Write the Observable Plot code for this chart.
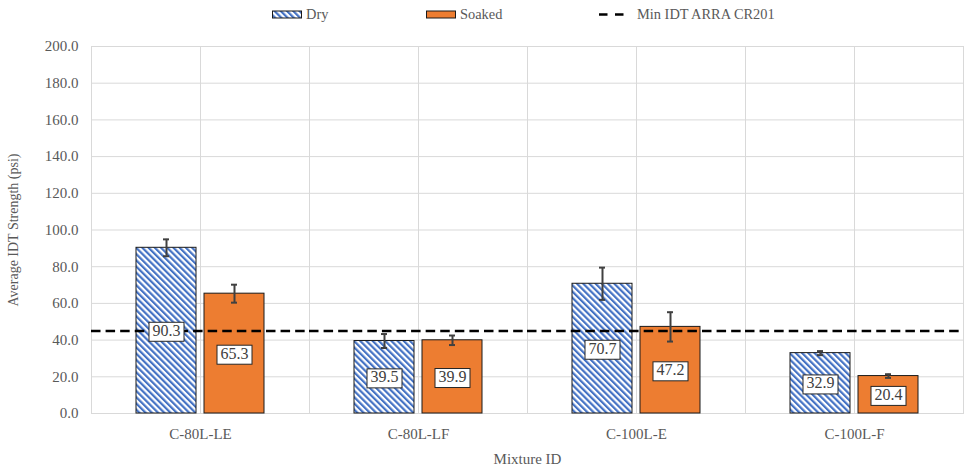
<!DOCTYPE html>
<html>
<head>
<meta charset="utf-8">
<script src="https://cdn.jsdelivr.net/npm/d3@7"></script>
<script src="https://cdn.jsdelivr.net/npm/@observablehq/plot@0.6"></script>
<style>
  body { margin: 0; background: #fff; font-family: "Times New Roman", "Liberation Serif", "DejaVu Serif", serif; }
  #chart { position: relative; width: 972px; height: 475px; overflow: hidden; }
  #legend { position: relative; height: 28px; font-size: 14.4px; color: #595959; font-family: "Times New Roman", "Liberation Serif", "DejaVu Serif", serif; }
  #legend .item { position: absolute; top: 5px; height: 18px; display: flex; align-items: center; white-space: nowrap; }
  #legend .item svg { margin-right: 4px; }
</style>
</head>
<body>
<svg width="0" height="0" style="position:absolute">
  <defs>
    <pattern id="dryHatch" patternUnits="userSpaceOnUse" width="4.4" height="4.4" patternTransform="rotate(-45)">
      <rect width="4.4" height="4.4" fill="#ffffff"></rect>
      <rect width="2.2" height="4.4" fill="#4472C4"></rect>
    </pattern>
  </defs>
</svg>
<div id="chart">
  <div id="legend">
    <div class="item" style="left:272px">
      <svg width="30" height="9"><rect x="0.5" y="1" width="29" height="7" fill="url(#dryHatch)" stroke="#1a1a1a" stroke-width="1"></rect></svg>Dry
    </div>
    <div class="item" style="left:426px">
      <svg width="30" height="9"><rect x="0.5" y="1" width="29" height="7" fill="#ED7D31" stroke="#1a1a1a" stroke-width="1"></rect></svg>Soaked
    </div>
    <div class="item" style="left:599px">
      <svg width="34" height="9"><line x1="0" x2="27" y1="4.5" y2="4.5" stroke="#000" stroke-width="2.6" stroke-dasharray="8.5,7.5"></line></svg>Min IDT ARRA CR201
    </div>
  </div>
</div>
<script>
// Average indirect tensile (IDT) strength per mixture, dry vs. soaked
const mixtures = ["C-80L-LE", "C-80L-LF", "C-100L-E", "C-100L-F"];
const conditions = ["Dry", "Soaked"];
const dryMeans = [90.3, 39.5, 70.7, 32.9];
const soakedMeans = [65.3, 39.9, 47.2, 20.4];
const dryErr = [4.6, 3.8, 8.8, 1.1];
const soakedErr = [4.9, 2.6, 8.0, 1.0];
const minIDT = 45; // Min IDT, ARRA CR201
const yTicks = [0, 20, 40, 60, 80, 100, 120, 140, 160, 180, 200];

const rows = mixtures.flatMap((m, i) => [
  {mixture: m, condition: "Dry", mean: dryMeans[i], err: dryErr[i]},
  {mixture: m, condition: "Soaked", mean: soakedMeans[i], err: soakedErr[i]}
]);

const grid = "#d9d9d9";
const ink = "#404040";
const serif = '"Times New Roman", "Liberation Serif", "DejaVu Serif", serif';

const plot = Plot.plot({
  width: 972,
  height: 447,
  marginTop: 18,
  marginBottom: 62,
  marginLeft: 89,
  marginRight: 8,
  style: {fontFamily: serif, fontSize: "15px", color: "#595959", background: "white", overflow: "visible"},
  fx: {domain: mixtures, padding: 0},
  x: {domain: conditions, paddingInner: 0.116, paddingOuter: 0.645, axis: null},
  y: {domain: [0, 200]},
  color: {domain: conditions, range: ["url(#dryHatch)", "#ED7D31"]},
  marks: [
    Plot.gridY(yTicks, {stroke: grid, strokeOpacity: 1, strokeWidth: 1}),
    Plot.frame({anchor: "left", stroke: grid, strokeOpacity: 1}),
    Plot.frame({anchor: "right", stroke: grid, strokeOpacity: 1}),
    Plot.gridFx({stroke: grid, strokeOpacity: 1}),
    Plot.axisY(yTicks, {
      tickSize: 0, tickPadding: 13, tickFormat: d3.format(".1f"), fill: "#595959", fontFamily: serif, fontSize: 15,
      label: null
    }),
    // axis title alone, in a slightly smaller size
    Plot.axisY([], {
      tickSize: 0, fill: "#595959", fontFamily: serif, fontSize: 14,
      label: "Average IDT Strength (psi)", labelAnchor: "center", labelArrow: "none", labelOffset: 83
    }),
    Plot.axisFx({
      anchor: "bottom", tickSize: 0, tickPadding: 15, fill: "#595959", fontFamily: serif, fontSize: 15,
      label: "Mixture ID", labelAnchor: "center", labelArrow: "none", labelOffset: 50
    }),
    Plot.barY(rows, {fx: "mixture", x: "condition", y: "mean", fill: "condition", stroke: "#1a1a1a", strokeWidth: 1}),
    Plot.ruleX(rows, {fx: "mixture", x: "condition", y1: d => d.mean - d.err, y2: d => d.mean + d.err, stroke: ink, strokeWidth: 2}),
    Plot.tickY(rows, {fx: "mixture", x: "condition", y: d => d.mean - d.err, stroke: ink, strokeWidth: 2, insetLeft: 27, insetRight: 27}),
    Plot.tickY(rows, {fx: "mixture", x: "condition", y: d => d.mean + d.err, stroke: ink, strokeWidth: 2, insetLeft: 27, insetRight: 27}),
    // one rule per facet; the dash period divides the facet width so the dashes run on seamlessly
    Plot.ruleY([minIDT], {stroke: "#000", strokeWidth: 2.6, strokeDasharray: "9.5,5.083"}),
    Plot.text(rows, {
      fx: "mixture", x: "condition", y: d => d.mean / 2, text: d => d.mean.toFixed(1),
      fill: ink, fontSize: 16, fontFamily: serif
    })
  ]
});

document.getElementById("chart").append(plot);

// White boxes behind the value labels
plot.querySelectorAll("g[aria-label='text'] text").forEach(t => {
  const b = t.getBBox();
  const r = document.createElementNS("http://www.w3.org/2000/svg", "rect");
  r.setAttribute("x", b.x - 3.5);
  r.setAttribute("y", b.y + 0.5);
  r.setAttribute("width", b.width + 7);
  r.setAttribute("height", b.height + 2);
  r.setAttribute("fill", "#fff");
  r.setAttribute("stroke", "#262626");
  r.setAttribute("stroke-width", 1);
  if (t.getAttribute("transform")) r.setAttribute("transform", t.getAttribute("transform"));
  t.parentNode.insertBefore(r, t);
});
</script>
</body>
</html>
